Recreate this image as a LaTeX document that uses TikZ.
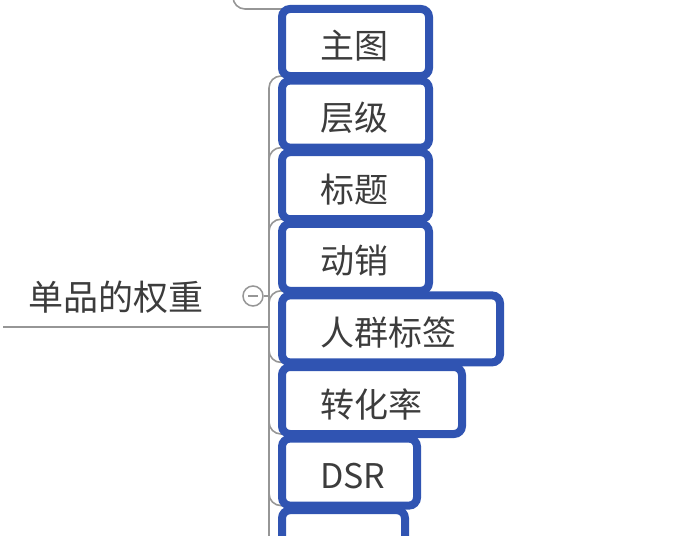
\documentclass[tikz,border=0pt]{standalone}
\usepackage{fontspec}
\setmainfont{Noto Sans CJK SC}
\usetikzlibrary{positioning,backgrounds}
\definecolor{boxblue}{RGB}{48,84,178}
\definecolor{linegray}{RGB}{150,150,150}
\definecolor{txtgray}{RGB}{60,60,60}

\begin{document}
\begin{tikzpicture}[x=1pt,y=-1pt,node distance=4.6pt]

\tikzstyle{bx} = [rectangle, draw=boxblue, line width=8pt, rounded corners=8pt, minimum height=67pt, inner xsep=38pt, outer sep=0pt, align=left, text height=37pt, text depth=4pt, text=txtgray, font=\fontsize{34pt}{40pt}\selectfont]
\tikzstyle{ln} = [draw=linegray, line width=1.6pt, rounded corners=12pt]
\useasboundingbox (0,0) rectangle (674,535);

\node (zt) [bx, text width=71pt, anchor=north west] at (282,9) {主图};
\node (cj) [bx, text width=71pt, below=of zt.south west, anchor=north west] {层级};
\node (bt) [bx, text width=71pt, below=of cj.south west, anchor=north west] {标题};
\node (dx) [bx, text width=71pt, below=of bt.south west, anchor=north west] {动销};
\node (rq) [bx, text width=142pt, below=of dx.south west, anchor=north west] {人群标签};
\node (zh) [bx, text width=104pt, below=of rq.south west, anchor=north west] {转化率};
\node (dsr) [bx, text width=59pt, below=of zh.south west, anchor=north west] {DSR};
\node (nx) [bx, text width=47pt, below=of dsr.south west, anchor=north west] {};

\node (dp) [anchor=west, text=txtgray, font=\fontsize{35pt}{40pt}\selectfont] at (25,297) {单品的权重};
\node (fold) [circle, draw=linegray, line width=1.5pt, minimum size=20pt, inner sep=0pt,
  path picture={\draw[linegray, line width=1.4pt] ([xshift=-5pt]path picture bounding box.center) -- ([xshift=5pt]path picture bounding box.center);}] at (253,296) {};

\coordinate (jn) at (269,327);
\coordinate (ul) at (3,327);
\coordinate (up) at (233,-8);

\begin{scope}[on background layer]
\foreach \b in {zt,cj,bt,dx,rq,zh,dsr,nx}
  \draw [ln] (jn) |- (\b.south west);
\draw [ln] (ul) -- (jn);
\draw [ln] (fold) -- (fold -| jn);
\draw [ln] (up) |- (zt.north west);
\end{scope}
\end{tikzpicture}
\end{document}
